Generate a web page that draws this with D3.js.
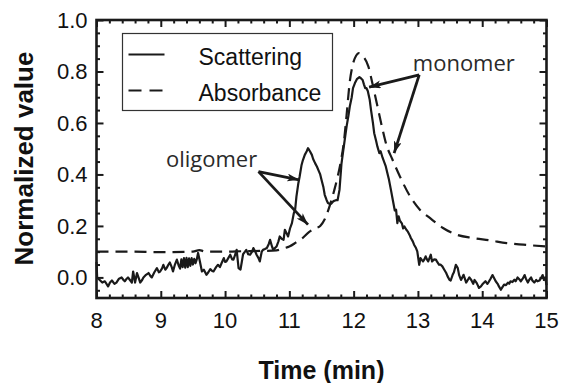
<!DOCTYPE html>
<html>
<head>
<meta charset="utf-8">
<script src="https://cdn.jsdelivr.net/npm/d3@7"></script>
<style>
  html, body { margin: 0; padding: 0; background: #fff; }
  #chart { width: 562px; height: 383px; }
</style>
</head>
<body>
<div id="chart"></div>
<script>
// ---- Data ----
const xTicks = [8, 9, 10, 11, 12, 13, 14, 15];
const yTicks = [0.0, 0.2, 0.4, 0.6, 0.8, 1.0];

// light scattering trace [time (min), normalized value]
const scattering = [
  [8.00,0.06],[8.01,0.00],[8.05,-0.01],[8.09,-0.02],[8.13,-0.015],[8.18,-0.035],[8.21,-0.02],[8.24,-0.012],
  [8.28,-0.025],[8.31,-0.02],[8.35,-0.005],[8.39,0.0],[8.42,-0.01],[8.44,-0.015],[8.47,-0.005],[8.49,0.0],
  [8.52,-0.01],[8.55,-0.02],[8.57,0.023],[8.60,-0.02],[8.63,0.017],[8.66,-0.005],[8.68,-0.02],[8.71,-0.01],
  [8.73,0.0],[8.77,0.01],[8.81,0.017],[8.84,0.005],[8.86,0.0],[8.90,0.02],[8.94,0.036],[8.97,0.02],
  [8.99,0.023],[9.02,0.035],[9.04,0.049],[9.07,0.03],[9.09,0.036],[9.12,0.05],[9.14,0.058],[9.17,0.04],
  [9.19,0.023],[9.22,0.05],[9.25,0.069],[9.28,0.045],[9.30,0.034],[9.32,0.07],[9.34,0.04],[9.36,0.075],
  [9.38,0.038],[9.40,0.076],[9.42,0.04],[9.44,0.074],[9.46,0.045],[9.48,0.075],[9.50,0.05],[9.52,0.072],
  [9.54,0.055],[9.56,0.07],[9.58,0.095],[9.61,0.06],[9.64,0.023],[9.67,0.03],[9.71,0.01],[9.74,0.02],
  [9.77,0.032],[9.80,0.025],[9.82,0.023],[9.86,0.04],[9.89,0.049],[9.92,0.04],[9.95,0.058],[9.98,0.075],
  [10.00,0.06],[10.02,0.062],[10.05,0.075],[10.08,0.088],[10.11,0.07],[10.13,0.069],[10.16,0.09],[10.18,0.107],
  [10.21,0.036],[10.24,0.03],[10.26,0.06],[10.28,0.09],[10.31,0.1],[10.33,0.107],[10.36,0.09],[10.39,0.088],
  [10.42,0.1],[10.44,0.114],[10.47,0.1],[10.49,0.088],[10.52,0.075],[10.54,0.062],[10.57,0.1],[10.59,0.107],
  [10.62,0.11],[10.65,0.114],[10.68,0.13],[10.70,0.146],[10.73,0.12],[10.75,0.107],[10.78,0.115],[10.80,0.12],
  [10.83,0.14],[10.85,0.159],[10.88,0.15],[10.91,0.146],[10.93,0.185],[10.96,0.17],[10.98,0.159],[11.01,0.19],
  [11.04,0.211],[11.07,0.25],[11.09,0.263],[11.11,0.314],[11.14,0.366],[11.16,0.392],[11.19,0.437],[11.21,0.455],
  [11.24,0.476],[11.27,0.49],[11.29,0.502],[11.32,0.49],[11.35,0.476],[11.37,0.46],[11.40,0.444],[11.43,0.43],
  [11.45,0.418],[11.48,0.40],[11.50,0.379],[11.53,0.35],[11.55,0.321],[11.58,0.30],[11.60,0.289],[11.63,0.285],
  [11.65,0.286],[11.68,0.295],[11.70,0.298],[11.73,0.30],[11.75,0.30],[11.78,0.34],[11.81,0.44],[11.84,0.496],
  [11.87,0.55],[11.89,0.586],[11.92,0.63],[11.94,0.664],[11.97,0.70],[11.99,0.735],[12.02,0.755],[12.05,0.77],
  [12.09,0.778],[12.12,0.772],[12.14,0.767],[12.16,0.75],[12.18,0.735],[12.20,0.735],[12.22,0.724],[12.25,0.69],
  [12.27,0.651],[12.30,0.60],[12.32,0.56],[12.35,0.53],[12.37,0.508],[12.40,0.483],[12.42,0.49],[12.45,0.465],
  [12.48,0.445],[12.50,0.431],[12.53,0.40],[12.55,0.379],[12.58,0.34],[12.61,0.30],[12.64,0.26],[12.66,0.263],
  [12.68,0.211],[12.70,0.237],[12.72,0.22],[12.75,0.21],[12.77,0.19],[12.79,0.198],[12.82,0.185],[12.84,0.179],
  [12.87,0.165],[12.89,0.153],[12.92,0.14],[12.94,0.127],[12.97,0.114],[12.99,0.101],[13.02,0.049],[13.04,0.075],
  [13.06,0.068],[13.08,0.062],[13.10,0.07],[13.12,0.082],[13.14,0.07],[13.16,0.062],[13.18,0.075],[13.20,0.088],
  [13.22,0.062],[13.25,0.07],[13.28,0.069],[13.30,0.06],[13.33,0.049],[13.35,0.05],[13.38,0.043],[13.41,0.03],
  [13.44,0.017],[13.46,0.005],[13.49,-0.009],[13.51,-0.012],[13.54,0.01],[13.56,0.02],[13.59,0.049],[13.62,0.036],
  [13.64,0.01],[13.67,-0.01],[13.69,0.0],[13.71,0.01],[13.73,-0.005],[13.75,-0.02],[13.78,-0.008],[13.80,0.0],
  [13.83,-0.01],[13.86,-0.025],[13.88,-0.01],[13.91,-0.02],[13.93,-0.03],[13.95,-0.041],[13.98,-0.035],[14.00,-0.028],
  [14.03,-0.02],[14.05,-0.015],[14.08,-0.025],[14.10,-0.018],[14.13,-0.005],[14.16,0.009],[14.19,-0.005],[14.21,-0.015],
  [14.24,-0.025],[14.26,-0.035],[14.29,-0.048],[14.31,-0.04],[14.34,-0.028],[14.37,-0.03],[14.40,-0.02],[14.42,-0.025],
  [14.44,-0.015],[14.47,-0.018],[14.50,-0.009],[14.52,-0.015],[14.55,0.0],[14.58,-0.008],[14.60,-0.015],[14.63,-0.005],
  [14.66,0.009],[14.68,-0.005],[14.71,-0.02],[14.73,-0.01],[14.76,0.0],[14.78,-0.012],[14.81,-0.02],[14.84,-0.01],
  [14.86,-0.015],[14.89,-0.012],[14.91,-0.005],[14.94,0.009],[14.96,-0.01],[14.98,0.0],[15.00,-0.03]
];

// UV absorbance trace [time (min), normalized value]
const absorbance = [
  [8.0,0.10],[8.5,0.10],[9.0,0.098],[9.5,0.10],[9.6,0.106],[9.7,0.10],[10.0,0.10],[10.3,0.102],
  [10.6,0.103],[10.8,0.105],[10.9,0.112],[11.0,0.12],[11.1,0.135],[11.2,0.152],[11.3,0.175],[11.4,0.19],
  [11.48,0.20],[11.55,0.226],[11.63,0.28],[11.7,0.34],[11.75,0.39],[11.8,0.45],[11.85,0.53],[11.89,0.63],
  [11.94,0.76],[11.99,0.83],[12.04,0.862],[12.08,0.871],[12.15,0.858],[12.23,0.819],[12.28,0.767],[12.36,0.677],
  [12.44,0.586],[12.51,0.515],[12.6,0.46],[12.72,0.392],[12.88,0.314],[13.03,0.263],[13.19,0.23],[13.39,0.192],
  [13.6,0.166],[13.86,0.153],[14.12,0.144],[14.38,0.133],[14.64,0.127],[15.0,0.12]
];

// annotations: label position and arrow tips, in data units
const annotations = [
  { text: 'oligomer', at: [9.08, 0.43], from: [10.52, 0.411], tips: [[11.15, 0.379], [11.29, 0.205]] },
  { text: 'monomer', at: [12.92, 0.802], from: [13.02, 0.787], tips: [[12.24, 0.739], [12.63, 0.483]] }
];

const legendItems = [
  { label: 'Scattering', dash: null },
  { label: 'Absorbance', dash: '13,8' }
];

// ---- Layout ----
const W = 562, H = 383;
const margin = { top: 20, right: 15.5, bottom: 85, left: 96.5 };
const innerW = W - margin.left - margin.right;
const innerH = H - margin.top - margin.bottom;
const sansFont = '"Liberation Sans", Arial, Helvetica, sans-serif';

const svg = d3.select('#chart').append('svg')
  .attr('width', W)
  .attr('height', H)
  .style('display', 'block');

const g = svg.append('g')
  .attr('transform', `translate(${margin.left},${margin.top})`);

// ---- Scales ----
const x = d3.scaleLinear().domain([8, 15]).range([0, innerW]);
const y = d3.scaleLinear().domain([-0.08, 1.0]).range([innerH, 0]);

// ---- Ticks (inward, mirrored on all sides) ----
const xMinor = d3.range(8, 15.0001, 0.2).filter(v => Math.abs(v - Math.round(v)) > 1e-6);
const yMinor = d3.range(-0.05, 1.0001, 0.05).filter(v => Math.abs(v * 5 - Math.round(v * 5)) > 1e-6);

function tickAxis(axisFn, scale, values, size) {
  return axisFn(scale).tickValues(values).tickSizeInner(-size).tickSizeOuter(0).tickFormat('');
}
const tickGroups = [
  { fn: d3.axisBottom, s: x, tr: `translate(0,${innerH})` },
  { fn: d3.axisTop, s: x, tr: 'translate(0,0)' },
  { fn: d3.axisLeft, s: y, tr: 'translate(0,0)' },
  { fn: d3.axisRight, s: y, tr: `translate(${innerW},0)` }
];
tickGroups.forEach(t => {
  const major = t.s === x ? xTicks : yTicks;
  const minor = t.s === x ? xMinor : yMinor;
  [[major, 7], [minor, 3.5]].forEach(([vals, len]) => {
    const a = g.append('g').attr('transform', t.tr).call(tickAxis(t.fn, t.s, vals, len));
    a.select('.domain').remove();
    a.selectAll('line').attr('stroke', '#1a1a1a').attr('stroke-width', 2);
  });
});

// ---- Tick labels ----
g.append('g').selectAll('text')
  .data(xTicks)
  .enter().append('text')
  .attr('x', d => x(d))
  .attr('y', innerH + 30)
  .attr('text-anchor', 'middle')
  .style('font-family', sansFont)
  .style('font-size', '22px')
  .style('fill', '#111')
  .text(d => d);

g.append('g').selectAll('text')
  .data(yTicks)
  .enter().append('text')
  .attr('x', -9)
  .attr('y', d => y(d))
  .attr('dy', '0.36em')
  .attr('text-anchor', 'end')
  .style('font-family', sansFont)
  .style('font-size', '22px')
  .style('fill', '#111')
  .text(d => d3.format('.1f')(d));

// ---- Curves ----
const line = d3.line().x(d => x(d[0])).y(d => y(d[1]));

g.append('path')
  .datum(absorbance)
  .attr('d', line.curve(d3.curveMonotoneX))
  .attr('fill', 'none')
  .attr('stroke', '#1a1a1a')
  .attr('stroke-width', 2.2)
  .attr('stroke-dasharray', '12,7');

g.append('path')
  .datum(scattering)
  .attr('d', line.curve(d3.curveLinear))
  .attr('fill', 'none')
  .attr('stroke', '#1a1a1a')
  .attr('stroke-width', 2.2)
  .attr('stroke-linejoin', 'round');

// ---- Frame ----
g.append('rect')
  .attr('x', 0).attr('y', 0)
  .attr('width', innerW).attr('height', innerH)
  .attr('fill', 'none')
  .attr('stroke', '#1a1a1a')
  .attr('stroke-width', 2.6);

// ---- Annotations with arrows ----
svg.append('defs').append('marker')
  .attr('id', 'arrow')
  .attr('viewBox', '0 0 12 8')
  .attr('refX', 12).attr('refY', 4)
  .attr('markerWidth', 12).attr('markerHeight', 8)
  .attr('markerUnits', 'userSpaceOnUse')
  .attr('orient', 'auto')
  .append('path')
  .attr('d', 'M0,0 L12,4 L0,8 L3,4 Z')
  .attr('fill', '#1a1a1a');

annotations.forEach(a => {
  g.append('text')
    .attr('x', x(a.at[0]))
    .attr('y', y(a.at[1]))
    .style('font-family', '"Open Sans", "Noto Sans", sans-serif')
    .style('font-size', '22px')
    .style('fill', '#2a2a2a')
    .text(a.text);
  a.tips.forEach(tp => {
    g.append('line')
      .attr('x1', x(a.from[0])).attr('y1', y(a.from[1]))
      .attr('x2', x(tp[0])).attr('y2', y(tp[1]))
      .attr('stroke', '#1a1a1a')
      .attr('stroke-width', 2.8)
      .attr('marker-end', 'url(#arrow)');
  });
});

// ---- Legend ----
const lg = svg.append('g').attr('transform', 'translate(122.5,33.5)');
lg.append('rect')
  .attr('width', 210).attr('height', 77)
  .attr('fill', '#fff')
  .attr('stroke', '#333')
  .attr('stroke-width', 1.2);
legendItems.forEach((it, i) => {
  const yy = 21 + i * 36;
  lg.append('line')
    .attr('x1', 6).attr('x2', 42)
    .attr('y1', yy).attr('y2', yy)
    .attr('stroke', '#1a1a1a')
    .attr('stroke-width', 2.2)
    .attr('stroke-dasharray', it.dash);
  lg.append('text')
    .attr('x', 76)
    .attr('y', yy + 10.5)
    .style('font-family', sansFont)
    .style('font-size', '23px')
    .style('fill', '#111')
    .text(it.label);
});

// ---- Axis titles ----
svg.append('text')
  .attr('x', margin.left + innerW / 2)
  .attr('y', 379)
  .attr('text-anchor', 'middle')
  .style('font-family', sansFont)
  .style('font-weight', 'bold')
  .style('font-size', '25px')
  .style('fill', '#111')
  .text('Time (min)');

svg.append('text')
  .attr('transform', 'rotate(-90)')
  .attr('x', -158.5)
  .attr('y', 33)
  .attr('text-anchor', 'middle')
  .style('font-family', sansFont)
  .style('font-weight', 'bold')
  .style('font-size', '26px')
  .style('fill', '#111')
  .text('Normalized value');
</script>
</body>
</html>
